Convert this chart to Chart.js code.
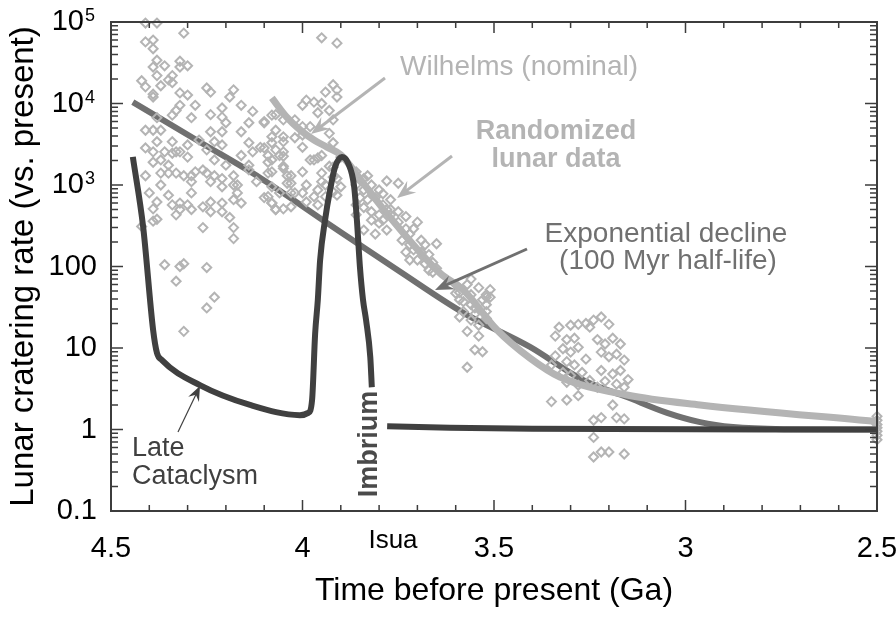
<!DOCTYPE html>
<html>
<head>
<meta charset="utf-8">
<script src="https://cdn.jsdelivr.net/npm/chart.js@4.4.0/dist/chart.umd.min.js"></script>
<style>
html, body { margin: 0; padding: 0; background: #fff; }
#wrap { width: 896px; height: 624px; position: relative; }
</style>
</head>
<body>
<div id="wrap"><canvas id="craterChart"></canvas></div>
<script>
// ---- data (age in Ga, rate relative to present) ----
const expAge  = [4.443, 4.268, 4.11, 3.928, 3.745, 3.58, 3.406, 3.268, 3.153, 3.048, 2.962, 2.876, 2.745, 2.5];
const expRate = [10400, 3370, 1220, 323, 86, 27, 10.3, 4.05, 2.5, 1.6, 1.23, 1.07, 1.01, 1.0];

const wilAge  = [4.08, 4.04, 4.006, 3.97, 3.936, 3.90, 3.842, 3.772, 3.641, 3.58, 3.492, 3.406, 3.328, 3.153, 2.962, 2.5];
const wilRate = [11700, 6700, 4730, 3560, 2920, 2340, 1060, 405, 83, 51.5, 16.6, 7.5, 4.4, 2.65, 2.0, 1.25];

// late cataclysm curve, null = break where the "Imbrium" label sits
const catAge  = [4.443, 4.416, 4.39, 4.38, 4.367, 4.268, 4.137, 4.007, 3.985, 3.975, 3.967, 3.96, 3.954, 3.941, 3.928, 3.915, 3.897, 3.881, 3.865, 3.858, 3.85, 3.842, 3.834, 3.823, 3.819, 3.80, 3.779, 3.615, 3.4, 2.5];
const catRate = [2210, 305, 16.6, 8.7, 7.1, 3.5, 2.0, 1.5, 1.6, 2.3, 15, 39, 120, 375, 870, 1660, 2210, 1860, 944, 372, 98, 39, 22, 7.7, 3.3, null, 1.1, 1.05, 1.02, 1.0];

// randomized lunar data, grouped by cluster
const earlyScatter = [
  [4.41,97000],[4.38,97000],[4.31,73000],[4.41,57000],[4.39,60000],[4.39,47000],[4.38,34000],[4.39,28000],
  [4.36,29000],[4.32,33000],[4.32,28000],[4.30,29000],[4.38,22000],[4.34,22000],[4.42,19000],[4.41,16000],
  [4.37,16500],[4.34,18000],[4.35,19500],[4.25,15500],[4.24,13800],[4.18,14700],[4.19,12000],[4.39,13000],
  [4.39,12000],[4.32,13500],[4.30,12700],[4.32,9500],[4.28,9500],[4.21,8800],[4.16,9500],[4.13,8000],
  [4.24,7300],[4.21,6800],[4.33,8200],[4.34,7200],[4.38,6700],[4.29,6700],[4.20,5800],[4.14,5800],
  [4.10,6000],[4.07,7300],[4.16,4500],[4.21,4500],[4.24,4500],[4.41,4700],[4.39,4700],[4.37,4700],
  [4.34,3400],[4.38,3400],[4.41,2850],[4.39,2550],[4.36,2550],[4.33,2550],[4.32,2550],[4.30,3100],
  [4.27,3560],[4.25,2700],[4.23,3400],[4.21,3100],[4.14,3300],[4.11,2900],[4.08,3300],[4.05,3400],
  [4.13,2550],[4.09,2300],[4.06,2300],[4.05,2550],[4.16,2300],[4.30,2200],[4.34,2450],
  [4.39,1900],[4.37,1400],[4.35,1400],[4.33,1400],[4.31,1300],[4.29,1300],[4.29,1100],[4.28,1450],
  [4.26,1530],[4.25,1400],[4.23,1300],[4.24,1100],[4.21,1200],[4.21,950],[4.18,1300],[4.17,1000],
  [4.14,1750],[4.09,1900],[4.08,1450],[4.05,1600],[4.03,1300],[4.04,1050],[4.06,800],[4.03,800],
  [4.09,720],[4.08,600],[4.07,500],[4.05,510],[4.03,540],[4.40,800],[4.35,750],[4.38,620],
  [4.39,510],[4.34,570],[4.32,600],[4.32,500],[4.30,570],[4.29,500],[4.33,430],[4.29,800],
  [4.26,540],[4.24,620],[4.24,470],[4.21,600],[4.21,470],[4.18,660],[4.16,600],[4.17,800],
  [4.19,400],[4.18,300],[4.18,220],[4.26,300],[4.39,360],[4.38,380],[4.42,310],[4.36,105],
  [4.32,100],[4.31,108],[4.25,97],[4.33,66],[4.23,42],[4.25,31],[4.31,16],
  [4.37,2030],[4.35,1750],[4.23,2030],[4.20,1750],[4.14,1530],[4.12,1100],[4.18,1000],[4.37,1000],[4.41,1300]
];
const nectarianScatter = [
  [3.95,64000],[3.91,55000],[3.92,17000],[3.94,13800],[3.91,14700],[3.91,12000],[3.99,11000],[3.97,10400],
  [3.95,10000],[4.00,9500],[3.93,8200],[3.96,7700],[3.92,6300],[4.10,5800],[4.08,7200],[4.05,6300],
  [4.02,6300],[4.07,4700],[4.05,3900],[4.08,3900],[4.00,5200],[3.98,5200],[4.00,4100],[4.02,3800],
  [3.93,4300],[4.00,2900],[3.92,3300],[4.10,2850],[4.07,2700],[4.05,2250],[4.08,2030],[4.05,1700],
  [3.97,2030],[3.98,2030],[3.96,2150],[4.00,1450],[4.09,1400],[4.04,1300],[4.03,1050],[4.08,950],
  [3.99,1000],[4.02,800],[4.00,800],[4.07,500],[4.08,600],[4.10,700],
  [3.93,1700],[3.92,1650],[3.95,1400],[3.92,1250],[3.91,1200],[3.95,1100],[3.94,1000],[3.90,950],
  [3.96,870],[3.92,820],[3.97,720],[3.94,720],[3.99,620],[3.96,570],[3.91,750],[3.95,2300],[3.90,2200]
];
const imbriumScatter = [
  [3.86,1450],[3.84,1200],[3.83,1300],[3.86,1000],[3.84,870],[3.82,1000],[3.80,870],[3.85,700],
  [3.83,660],[3.81,700],[3.79,570],[3.84,530],[3.82,470],[3.80,430],[3.78,500],[3.82,370],
  [3.80,340],[3.79,370],[3.84,280],[3.81,250],[3.78,280],[3.86,430],[3.86,570],[3.79,780],
  [3.77,660],[3.77,430],[3.78,1120],[3.75,1050],[3.75,470],[3.73,410],[3.70,350],[3.77,500],
  [3.75,350],[3.73,290],[3.72,250],[3.71,290],[3.69,210],[3.72,185],[3.71,160],[3.69,150],
  [3.68,185],[3.67,140],[3.70,120],[3.68,108],[3.66,112],[3.65,95],[3.67,90],[3.74,210],
  [3.72,120],[3.65,190],[3.73,150],[3.66,85]
];
const mareScatter = [
  [3.60,60],[3.59,48],[3.57,60],[3.56,45],[3.54,55],[3.52,45],[3.58,37],[3.56,34],[3.53,39],
  [3.52,34],[3.58,28],[3.55,26],[3.52,28],[3.56,22],[3.54,19],[3.52,23],[3.59,24],[3.55,9.5],
  [3.53,9],[3.57,5.8],[3.51,42],[3.56,70],[3.59,39],[3.51,52],[3.60,47],[3.52,42],[3.57,16],
  [3.54,14],[3.55,31]
];
const lateMareScatter = [
  [3.33,18],[3.30,19],[3.28,19.5],[3.26,20],[3.24,22],[3.22,24],[3.20,19.5],[3.25,18],
  [3.34,14],[3.31,12.7],[3.29,13.2],[3.32,9.8],[3.30,8.9],[3.28,10.2],[3.34,8],[3.31,6.8],
  [3.29,6.2],[3.26,7.3],[3.32,5],[3.30,4.6],[3.27,5],[3.35,6.2],[3.31,3.8],[3.28,3.5],
  [3.25,4],[3.23,12.7],[3.21,11.2],[3.19,13.2],[3.17,11.2],[3.22,8.9],[3.20,7.8],[3.18,8.4],
  [3.16,7.1],[3.22,5.3],[3.19,4.8],[3.17,5.3],[3.15,4.1],[3.21,3.9],[3.18,3.6],[3.16,3.3],
  [3.23,3.3],[3.35,2.2],[3.31,2.3],[3.28,2.6],[3.19,2.0],[3.18,1.4],[3.16,1.35],[3.24,1.3],
  [3.22,1.4],[3.24,0.8],[3.24,0.46],[3.22,0.53],[3.20,0.53],[3.16,0.5]
];
const presentScatter = [[2.5,0.75],[2.5,0.85],[2.5,0.95],[2.5,1.05],[2.5,1.15],[2.5,1.3],[2.5,1.45]];

// axis ticks
const xMajorTicks = [4.5, 4, 3.5, 3, 2.5];
const yDecades = [0.1, 1, 10, 100, 1000, 10000, 100000];
const yPowerLabels = { 1000: '3', 10000: '4', 100000: '5' };

const FONT = '"Liberation Sans", Arial, Helvetica, sans-serif';
const COL_LIGHT = '#b4b4b4';
const COL_MID = '#707070';
const COL_DARK = '#404040';
const COL_AXIS = '#3c3c3c';

function toXY(ages, rates) {
  return ages.map((a, i) => ({ x: a, y: rates[i] }));
}
const lunarPoints = [].concat(earlyScatter, nectarianScatter, imbriumScatter, mareScatter, lateMareScatter, presentScatter)
  .map(p => ({ x: p[0], y: p[1] }));

function drawArrow(ctx, x1, y1, x2, y2, color, width, head) {
  const a = Math.atan2(y2 - y1, x2 - x1);
  ctx.save();
  ctx.strokeStyle = color;
  ctx.fillStyle = color;
  ctx.lineWidth = width;
  ctx.beginPath();
  ctx.moveTo(x1, y1);
  ctx.lineTo(x2 - Math.cos(a) * head * 0.5, y2 - Math.sin(a) * head * 0.5);
  ctx.stroke();
  const sp = 0.38;
  ctx.beginPath();
  ctx.moveTo(x2, y2);
  ctx.lineTo(x2 - head * Math.cos(a - sp), y2 - head * Math.sin(a - sp));
  ctx.lineTo(x2 - head * 0.6 * Math.cos(a), y2 - head * 0.6 * Math.sin(a));
  ctx.lineTo(x2 - head * Math.cos(a + sp), y2 - head * Math.sin(a + sp));
  ctx.closePath();
  ctx.fill();
  ctx.restore();
}

const framePlugin = {
  id: 'frameAndNotes',
  afterDraw(chart) {
    const ctx = chart.ctx;
    const area = chart.chartArea;
    const xs = chart.scales.x, ys = chart.scales.y;
    ctx.save();
    // frame
    ctx.strokeStyle = COL_AXIS;
    ctx.lineWidth = 2;
    ctx.strokeRect(area.left, area.top, area.right - area.left, area.bottom - area.top);
    // inward ticks on x (top and bottom)
    ctx.lineWidth = 1.5;
    ctx.beginPath();
    for (let k = 0; k <= 20; k++) {
      const v = 2.5 + k * 0.1;
      const px = xs.getPixelForValue(v);
      const len = (k % 5 === 0) ? 11 : 6;
      ctx.moveTo(px, area.bottom); ctx.lineTo(px, area.bottom - len);
      ctx.moveTo(px, area.top); ctx.lineTo(px, area.top + len);
    }
    // inward ticks on y (left and right)
    for (let e = -1; e < 5; e++) {
      for (let m = 1; m <= 9; m++) {
        const v = m * Math.pow(10, e);
        const py = ys.getPixelForValue(v);
        const len = (m === 1) ? 12 : 7;
        ctx.moveTo(area.left, py); ctx.lineTo(area.left + len, py);
        ctx.moveTo(area.right, py); ctx.lineTo(area.right - len, py);
      }
    }
    ctx.stroke();

    // power-of-ten tick labels
    ctx.fillStyle = '#000';
    for (const v of [1000, 10000, 100000]) {
      const py = ys.getPixelForValue(v);
      ctx.font = '29px ' + FONT;
      ctx.textAlign = 'right';
      ctx.textBaseline = 'middle';
      ctx.fillText('10', 84, py);
      ctx.font = '18px ' + FONT;
      ctx.textAlign = 'left';
      ctx.textBaseline = 'alphabetic';
      ctx.fillText(yPowerLabels[v], 85, py - 1);
    }

    // Isua label under the axis
    ctx.font = '26px ' + FONT;
    ctx.textAlign = 'center';
    ctx.fillText('Isua', 393, 548);

    // annotations
    ctx.textAlign = 'left';
    ctx.font = '28px ' + FONT;
    ctx.fillStyle = COL_LIGHT;
    ctx.fillText('Wilhelms (nominal)', 400, 75);
    drawArrow(ctx, 385, 78, 311, 134, COL_LIGHT, 3, 20);

    ctx.font = 'bold 27px ' + FONT;
    ctx.textAlign = 'center';
    ctx.fillText('Randomized', 556, 139);
    ctx.fillText('lunar data', 556, 167);
    drawArrow(ctx, 452, 156, 397, 198, COL_LIGHT, 3, 20);

    ctx.font = '28px ' + FONT;
    ctx.fillStyle = COL_MID;
    ctx.fillText('Exponential decline', 666, 242);
    ctx.fillText('(100 Myr half-life)', 668, 269);
    drawArrow(ctx, 527, 249, 435, 290, COL_MID, 3, 20);

    ctx.font = '27px ' + FONT;
    ctx.fillStyle = COL_DARK;
    ctx.textAlign = 'left';
    ctx.fillText('Late', 132, 456);
    ctx.fillText('Cataclysm', 132, 484);
    drawArrow(ctx, 178, 432, 200, 386, COL_DARK, 1.2, 16);

    ctx.save();
    ctx.translate(377, 444);
    ctx.rotate(-Math.PI / 2);
    ctx.font = 'bold 27px ' + FONT;
    ctx.fillStyle = '#4a4a4a';
    ctx.textAlign = 'center';
    ctx.textBaseline = 'alphabetic';
    ctx.fillText('Imbrium', 0, 0);
    ctx.restore();

    ctx.restore();
  }
};

const ctx = document.getElementById('craterChart').getContext('2d');
new Chart(ctx, {
  type: 'scatter',
  data: {
    datasets: [
      {
        label: 'Late Cataclysm',
        data: toXY(catAge, catRate),
        showLine: true,
        borderColor: COL_DARK,
        borderWidth: 6,
        pointRadius: 0,
        cubicInterpolationMode: 'monotone',
        spanGaps: false,
        order: 0
      },
      {
        label: 'Randomized lunar data',
        data: lunarPoints,
        showLine: false,
        pointStyle: 'rectRot',
        pointRadius: 4.5,
        borderWidth: 2,
        borderColor: COL_LIGHT,
        backgroundColor: 'rgba(255,255,255,0)',
        clip: false,
        order: 1
      },
      {
        label: 'Wilhelms (nominal)',
        data: toXY(wilAge, wilRate),
        showLine: true,
        borderColor: COL_LIGHT,
        borderWidth: 7,
        pointRadius: 0,
        cubicInterpolationMode: 'monotone',
        order: 2
      },
      {
        label: 'Exponential decline',
        data: toXY(expAge, expRate),
        showLine: true,
        borderColor: COL_MID,
        borderWidth: 6,
        pointRadius: 0,
        cubicInterpolationMode: 'monotone',
        order: 3
      }
    ]
  },
  options: {
    responsive: true,
    maintainAspectRatio: false,
    animation: false,
    layout: { padding: { top: 22, right: 19, left: 0, bottom: 0 } },
    plugins: { legend: { display: false }, tooltip: { enabled: false } },
    scales: {
      x: {
        type: 'linear',
        reverse: true,
        min: 2.5,
        max: 4.5,
        afterFit: s => { s.height = 113; s.paddingLeft = 0; s.paddingRight = 0; },
        afterBuildTicks: s => { s.ticks = xMajorTicks.map(v => ({ value: v })); },
        grid: { display: false, drawTicks: false },
        border: { display: false },
        ticks: {
          color: '#000', font: { family: FONT, size: 29 }, padding: 21, maxRotation: 0, autoSkip: false,
          callback: v => String(v)
        },
        title: { display: true, text: 'Time before present (Ga)', color: '#000', font: { family: FONT, size: 32 }, padding: { top: 0, bottom: 14 } }
      },
      y: {
        type: 'logarithmic',
        min: 0.1,
        max: 100000,
        afterFit: s => { s.width = 111; s.paddingTop = 0; s.paddingBottom = 0; },
        afterBuildTicks: s => { s.ticks = yDecades.map(v => ({ value: v })); },
        grid: { display: false, drawTicks: false },
        border: { display: false },
        ticks: {
          color: '#000',
          font: { family: FONT, size: 29 },
          padding: 14,
          autoSkip: false,
          callback: v => (v >= 1000 ? '' : String(v))
        },
        title: { display: true, text: 'Lunar cratering rate (vs. present)', color: '#000', font: { family: FONT, size: 33 }, padding: { top: 4, bottom: 0 } }
      }
    }
  },
  plugins: [framePlugin]
});
</script>
</body>
</html>
